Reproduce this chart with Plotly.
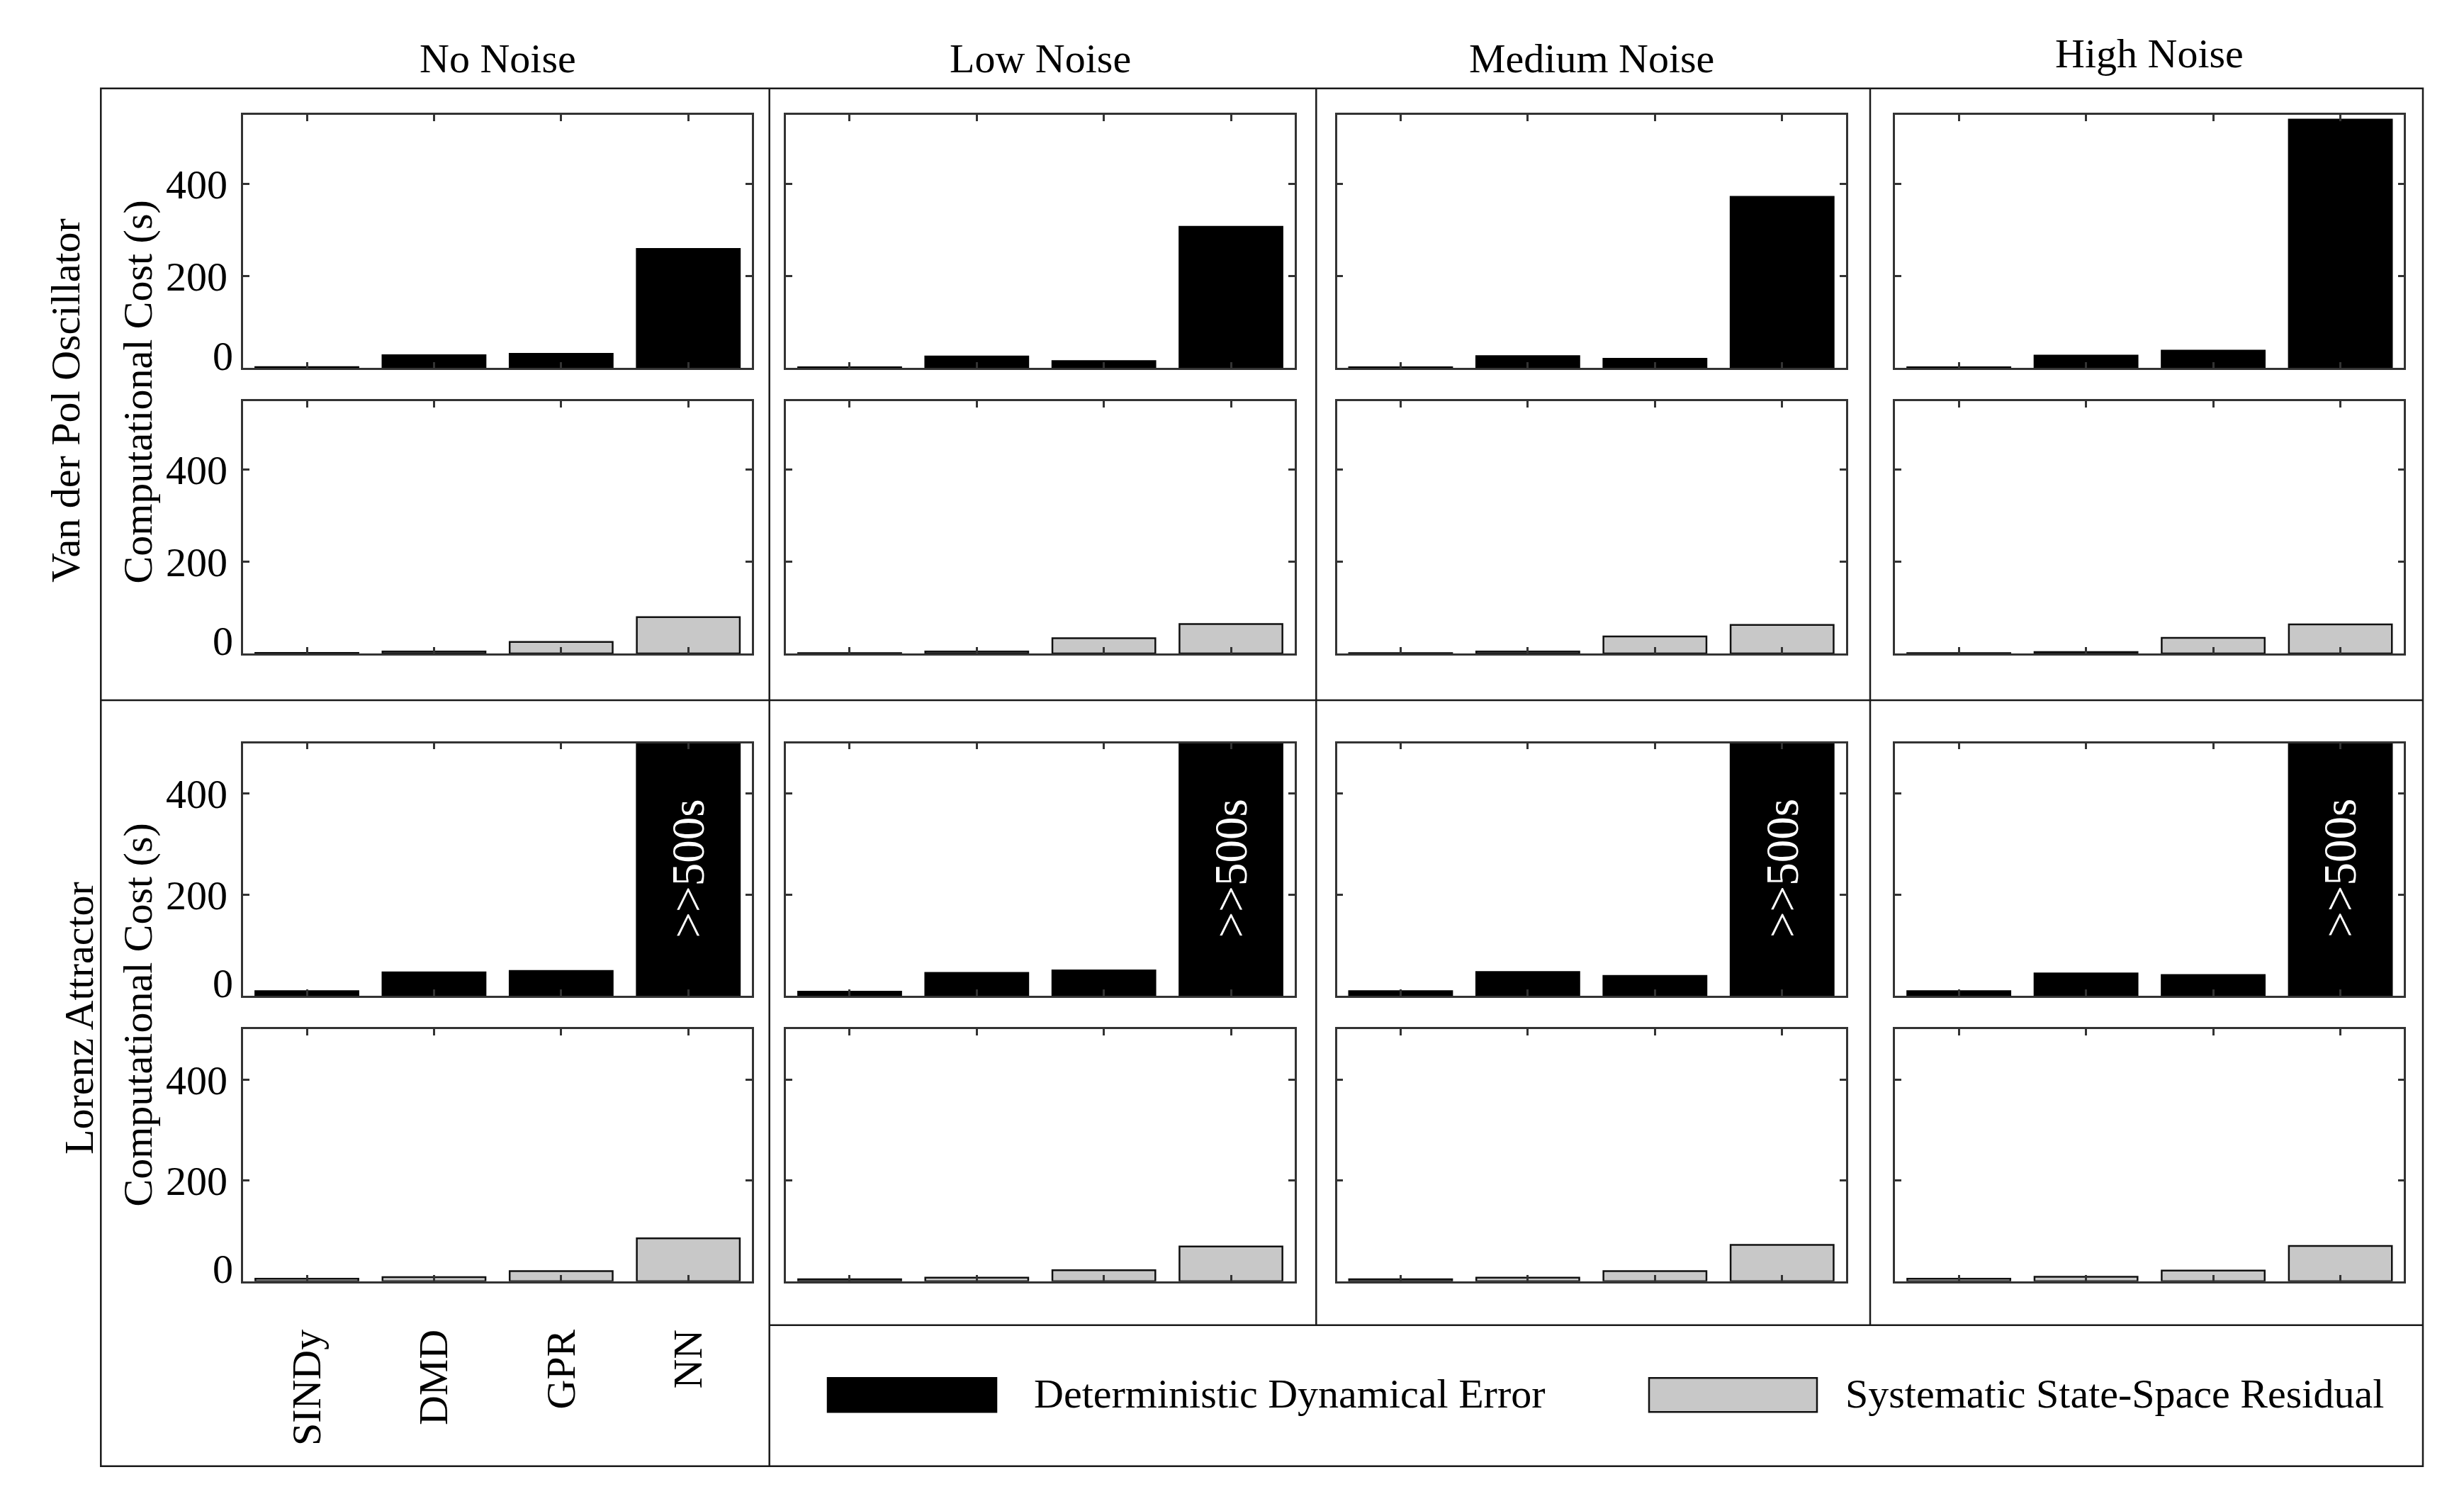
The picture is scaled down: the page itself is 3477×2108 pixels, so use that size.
import plotly.graph_objects as go

# ---------------- data ----------------
methods = ["SINDy", "DMD", "GPR", "NN"]
noise_levels = ["No Noise", "Low Noise", "Medium Noise", "High Noise"]
systems = ["Van der Pol Oscillator", "Lorenz Attractor"]
components = ["Deterministic Dynamical Error", "Systematic State-Space Residual"]
y_ticks = [0, 200, 400]
y_tick_text = ["0", "200", "400"]
y_title = "Computational Cost (s)"
nn_lorenz_label = ">>500s"

# rows: noise level (No, Low, Medium, High); columns: methods
vdp_deterministic = [
    [2, 28, 31, 259],
    [1.5, 25, 15, 307],
    [1.5, 26, 20, 372],
    [1.5, 27, 38, 540],
]
vdp_residual = [
    [1, 4, 25, 79],
    [0.5, 4, 33, 64],
    [0.5, 4, 37, 62],
    [0.5, 3, 34, 63],
]
lorenz_deterministic = [
    [9, 46, 49, 600],   # NN is ">>500 s" (beyond axis)
    [8, 45, 50, 600],
    [9, 47, 39, 600],
    [9, 44, 41, 600],
]
lorenz_residual = [
    [5, 8, 20, 85],
    [4, 7, 22, 69],
    [4, 7, 20, 72],
    [5, 9, 21, 70],
]

# ---------------- layout helpers ----------------
W, H = 3477, 2108
FONT = "Liberation Serif, Times New Roman, serif"
FS = 58
BLACK = "#000000"
GRAY = "#c8c8c8"
AXC = "#333333"
FRAME = "#1a1a1a"

col_px = [(343.3, 1061.0), (1109.3, 1826.7), (1886.7, 2604.5), (2674.4, 3392.3)]
row_px = [(162.3, 519.3), (565.9, 921.9), (1048.5, 1404.9), (1452.2, 1807.8)]


def px_x(v):
    return v / W


def px_y(v):
    return 1 - v / H


row_data = [vdp_deterministic, vdp_residual, lorenz_deterministic, lorenz_residual]
row_color = [BLACK, GRAY, BLACK, GRAY]
row_line = [BLACK, "#111111", BLACK, "#111111"]
row_range = [[0, 550], [0, 550], [0, 500], [0, 500]]
row_comp = [0, 1, 0, 1]

fig = go.Figure()
layout = {}
annotations = []

for r in range(4):
    for c in range(4):
        idx = r * 4 + c + 1
        xa = "x" if idx == 1 else f"x{idx}"
        ya = "y" if idx == 1 else f"y{idx}"
        fig.add_trace(go.Bar(
            x=methods,
            y=row_data[r][c],
            xaxis=xa, yaxis=ya,
            name=components[row_comp[r]],
            showlegend=False,
            marker=dict(color=row_color[r], line=dict(color=row_line[r], width=2.5)),
            hoverinfo="x+y",
        ))
        x0, x1 = col_px[c]
        t, b = row_px[r]
        show_x = (r == 3 and c == 0)
        layout["xaxis" if idx == 1 else f"xaxis{idx}"] = dict(
            domain=[px_x(x0), px_x(x1)],
            anchor=ya,
            type="category",
            categoryorder="array",
            categoryarray=methods,
            range=[-0.5, 3.5],
            showline=True, linecolor=AXC, linewidth=2.5, mirror="ticks",
            ticks="inside", ticklen=9, tickwidth=2.5, tickcolor=AXC,
            showgrid=False, zeroline=False,
            showticklabels=show_x,
            tickangle=-90,
            ticklabelstandoff=42,
            tickfont=dict(family=FONT, size=FS, color="#000"),
            fixedrange=True,
        )
        layout["yaxis" if idx == 1 else f"yaxis{idx}"] = dict(
            domain=[px_y(b), px_y(t)],
            anchor=xa,
            range=row_range[r],
            tickmode="array",
            tickvals=y_ticks,
            ticktext=[""] + y_tick_text[1:],
            showline=True, linecolor=AXC, linewidth=2.5, mirror="ticks",
            ticks="inside", ticklen=9, tickwidth=2.5, tickcolor=AXC,
            showgrid=False, zeroline=False,
            showticklabels=(c == 0),
            ticklabelstandoff=8,
            tickfont=dict(family=FONT, size=FS, color="#000"),
            fixedrange=True,
        )
        if c == 0:
            # the "0" label sits slightly raised above the baseline tick
            annotations.append(dict(
                xref="paper", yref=ya, x=px_x(x0 - 12), y=y_ticks[0],
                text=y_tick_text[0], showarrow=False, yshift=17,
                font=dict(family=FONT, size=FS, color="#000"),
                xanchor="right", yanchor="middle",
            ))
        if r == 2:
            annotations.append(dict(
                xref=xa, yref=ya, x=methods[3], y=252,
                text=nn_lorenz_label, textangle=-90, showarrow=False,
                font=dict(family=FONT, size=65, color="#ffffff"),
                xanchor="center", yanchor="middle",
            ))

# column titles
title_y = [82, 82, 82, 76]
for c in range(4):
    x0, x1 = col_px[c]
    annotations.append(dict(
        xref="paper", yref="paper", x=px_x((x0 + x1) / 2), y=px_y(title_y[c]),
        text=noise_levels[c], showarrow=False,
        font=dict(family=FONT, size=FS, color="#000"),
        xanchor="center", yanchor="middle",
    ))

# row (system) labels and shared y titles
sys_pos = [(92, 565), (111, 1437)]
ytitle_pos = [(193.5, 553), (193.5, 1432)]
for s in range(2):
    annotations.append(dict(
        xref="paper", yref="paper", x=px_x(sys_pos[s][0]), y=px_y(sys_pos[s][1]),
        text=systems[s], textangle=-90, showarrow=False,
        font=dict(family=FONT, size=FS, color="#000"),
        xanchor="center", yanchor="middle",
    ))
    annotations.append(dict(
        xref="paper", yref="paper", x=px_x(ytitle_pos[s][0]), y=px_y(ytitle_pos[s][1]),
        text=y_title, textangle=-90, showarrow=False,
        font=dict(family=FONT, size=FS, color="#000"),
        xanchor="center", yanchor="middle",
    ))

# frame lines
L, R, T, B = 142.3, 3419.0, 124.7, 2068.7
div_x = [1085.7, 1857.3, 2639.0]
row_div = 988.0
leg_top = 1869.7
shapes = []


def line(xa, ya, xb, yb, w=2.5):
    shapes.append(dict(type="line", xref="paper", yref="paper",
                       x0=px_x(xa), y0=px_y(ya), x1=px_x(xb), y1=px_y(yb),
                       line=dict(color=FRAME, width=w)))


shapes.append(dict(type="rect", xref="paper", yref="paper",
                   x0=px_x(L), x1=px_x(R), y0=px_y(B), y1=px_y(T),
                   line=dict(color=FRAME, width=2.5), fillcolor="rgba(0,0,0,0)"))
line(div_x[0], T, div_x[0], B)
line(div_x[1], T, div_x[1], leg_top)
line(div_x[2], T, div_x[2], leg_top)
line(L, row_div, R, row_div)
line(div_x[0], leg_top, R, leg_top)

# legend (drawn as swatches + text)
sw_top, sw_bot = 1944.3, 1992.3
legend_items = [
    (1168.0, 1406.0, 1457.0, BLACK, BLACK),
    (2327.0, 2564.0, 2602.0, GRAY, "#111111"),
]
for i, (sx0, sx1, tx, fc, lc) in enumerate(legend_items):
    shapes.append(dict(type="rect", xref="paper", yref="paper",
                       x0=px_x(sx0), x1=px_x(sx1), y0=px_y(sw_bot), y1=px_y(sw_top),
                       line=dict(color=lc, width=2.5), fillcolor=fc))
    annotations.append(dict(
        xref="paper", yref="paper", x=px_x(tx), y=px_y((sw_top + sw_bot) / 2 - 2),
        text=components[i], showarrow=False,
        font=dict(family=FONT, size=FS, color="#000"),
        xanchor="left", yanchor="middle",
    ))

fig.update_layout(
    width=W, height=H,
    margin=dict(l=0, r=0, t=0, b=0),
    paper_bgcolor="white", plot_bgcolor="white",
    bargap=0.19,
    showlegend=False,
    font=dict(family=FONT, size=FS, color="#000"),
    annotations=annotations,
    shapes=shapes,
    **layout,
)

post = """
var de=document.documentElement, bd=document.body;
de.style.margin='0'; de.style.padding='0'; de.style.overflow='hidden';
bd.style.margin='0'; bd.style.padding='0'; bd.style.overflow='hidden';
var gd=document.getElementById('{plot_id}');
gd.style.position='fixed'; gd.style.left='0px'; gd.style.top='0px';
"""

fig.write_html(
    "out.html",
    config={"displayModeBar": False},
    post_script=post,
)
